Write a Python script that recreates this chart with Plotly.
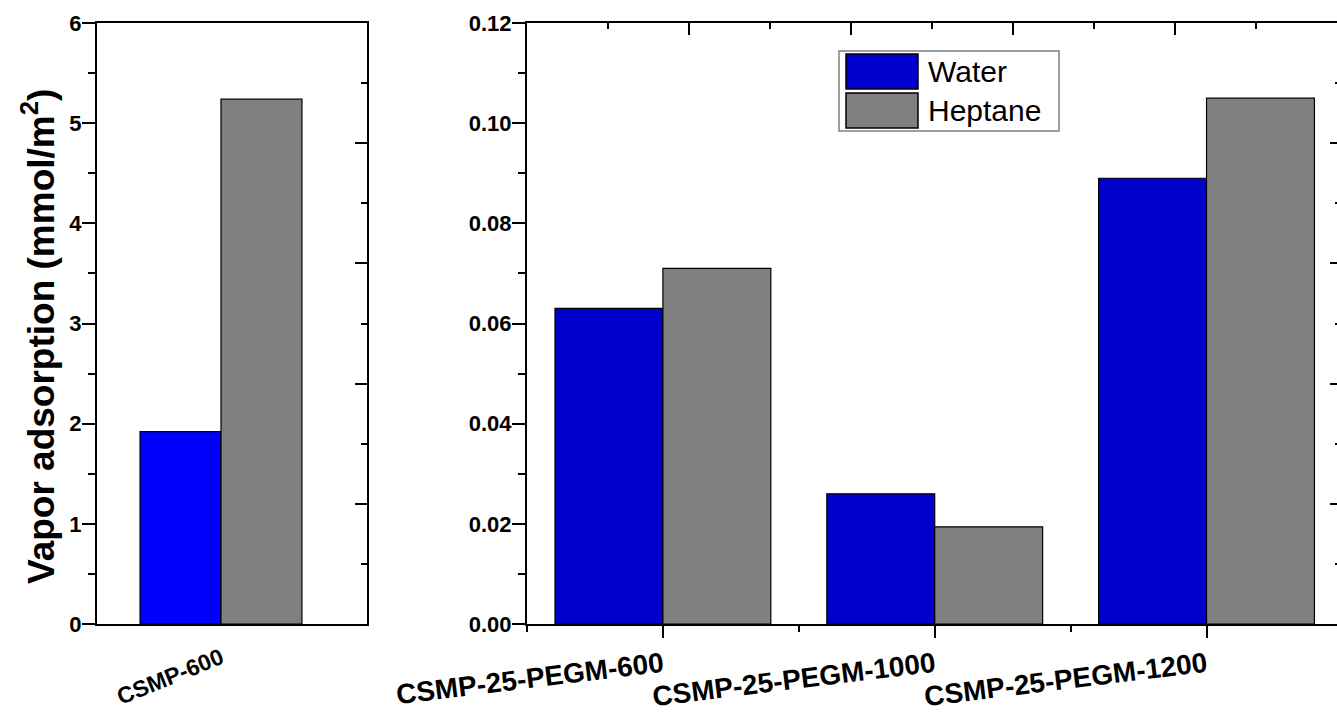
import plotly.graph_objects as go

# ---------------- data ----------------
series_names = ["Water", "Heptane"]
left_categories = ["CSMP-600"]
left_water = [1.92]
left_heptane = [5.24]

right_categories = ["CSMP-25-PEGM-600", "CSMP-25-PEGM-1000", "CSMP-25-PEGM-1200"]
right_water = [0.063, 0.026, 0.089]
right_heptane = [0.071, 0.0194, 0.105]

left_yticks = [0, 1, 2, 3, 4, 5, 6]
right_yticks = [0.00, 0.02, 0.04, 0.06, 0.08, 0.10, 0.12]

# ---------------- styles ----------------
W, H = 1337, 712
FONT = "Liberation Sans, Arial, sans-serif"
BLUE_L = "#0000FF"
BLUE_R = "#0000CC"
GRAY = "#808080"


def px(x):
    return x / W


def py(y):
    return 1 - y / H


Y_DOM = [py(624), py(23)]
LEFT_DOM = [px(97), px(367)]
RIGHT_DOM = [px(527), 1.0]

fig = go.Figure()

bar_line = dict(color="black", width=1.2)
lx = list(range(len(left_categories)))
rx = list(range(len(right_categories)))

fig.add_trace(go.Bar(x=lx, y=left_water, name=series_names[0], marker=dict(color=BLUE_L, line=bar_line),
                     xaxis="x", yaxis="y", offsetgroup="a", showlegend=False))
fig.add_trace(go.Bar(x=lx, y=left_heptane, name=series_names[1], marker=dict(color=GRAY, line=bar_line),
                     xaxis="x", yaxis="y", offsetgroup="b", showlegend=False))
fig.add_trace(go.Bar(x=rx, y=right_water, name=series_names[0], marker=dict(color=BLUE_R, line=bar_line),
                     xaxis="x2", yaxis="y2", offsetgroup="a", showlegend=False))
fig.add_trace(go.Bar(x=rx, y=right_heptane, name=series_names[1], marker=dict(color=GRAY, line=bar_line),
                     xaxis="x2", yaxis="y2", offsetgroup="b", showlegend=False))

# empty helper traces so the decorative tick-only axes get drawn
fig.add_trace(go.Scatter(x=[], y=[], xaxis="x", yaxis="y4", showlegend=False, hoverinfo="skip"))
fig.add_trace(go.Scatter(x=[], y=[], xaxis="x3", yaxis="y2", showlegend=False, hoverinfo="skip"))
fig.add_trace(go.Scatter(x=[], y=[], xaxis="x2", yaxis="y3", showlegend=False, hoverinfo="skip"))

tickfont = dict(family=FONT, size=22, color="black", weight="bold")

fig.update_layout(
    width=W, height=H,
    margin=dict(l=0, r=0, t=0, b=0),
    paper_bgcolor="white", plot_bgcolor="white",
    barmode="group", bargap=0.206, bargroupgap=0,
    showlegend=False,
    # ---- left panel ----
    xaxis=dict(domain=LEFT_DOM, anchor="y", range=[-0.608, 0.716],
               tickmode="array", tickvals=lx, ticktext=left_categories,
               ticks="outside", ticklen=10, tickcolor="rgba(0,0,0,0)", tickangle=-22,
               tickfont=dict(family=FONT, size=23, color="black", weight="bold"),
               showline=True, linecolor="black", linewidth=2, mirror=True,
               showgrid=False, zeroline=False, automargin=False, fixedrange=True),
    yaxis=dict(domain=Y_DOM, anchor="x", range=[0, 6],
               tickmode="array", tickvals=left_yticks,
               ticks="outside", ticklen=13, tickwidth=2, tickcolor="black",
               minor=dict(dtick=0.5, ticks="outside", ticklen=7, tickwidth=2, tickcolor="black", showgrid=False),
               tickfont=tickfont, ticklabelstandoff=-4,
               showline=True, linecolor="black", linewidth=2, mirror=True,
               showgrid=False, zeroline=False, automargin=False, fixedrange=True),
    yaxis4=dict(overlaying="y", anchor="x", side="right", range=[0, 5],
                tickmode="linear", tick0=0, dtick=1, ticks="inside", ticklen=12, tickwidth=2, tickcolor="black",
                minor=dict(dtick=0.5, ticks="inside", ticklen=6, tickwidth=2, tickcolor="black", showgrid=False),
                showticklabels=False, showline=False, showgrid=False, zeroline=False, fixedrange=True),
    # ---- right panel ----
    xaxis2=dict(domain=RIGHT_DOM, anchor="y2", range=[-0.5, 2.48],
                tickmode="array", tickvals=rx, ticktext=right_categories,
                ticks="outside", ticklen=12, tickwidth=2, tickcolor="black",
                minor=dict(tickmode="array", tickvals=[-0.5, 0.5, 1.5], ticks="outside", ticklen=6,
                           tickwidth=2, tickcolor="black", showgrid=False),
                tickangle=-7,
                tickfont=dict(family=FONT, size=28, color="black", weight="bold"),
                showline=True, linecolor="black", linewidth=2, mirror=True,
                showgrid=False, zeroline=False, automargin=False, fixedrange=True),
    yaxis2=dict(domain=Y_DOM, anchor="x2", range=[0, 0.12],
                tickmode="array", tickvals=right_yticks, tickformat=".2f",
                ticks="outside", ticklen=13, tickwidth=2, tickcolor="black",
                minor=dict(dtick=0.01, ticks="outside", ticklen=7, tickwidth=2, tickcolor="black", showgrid=False),
                tickfont=tickfont, ticklabelstandoff=-4,
                showline=True, linecolor="black", linewidth=2, mirror=False,
                showgrid=False, zeroline=False, automargin=False, fixedrange=True),
    xaxis3=dict(overlaying="x2", anchor="y2", side="top", range=[0, 5],
                tickmode="linear", tick0=0, dtick=1, ticks="inside", ticklen=12, tickwidth=2, tickcolor="black",
                minor=dict(dtick=0.5, ticks="inside", ticklen=6, tickwidth=2, tickcolor="black", showgrid=False),
                showticklabels=False, showline=False, showgrid=False, zeroline=False, fixedrange=True),
    yaxis3=dict(overlaying="y2", anchor="x2", side="right", range=[0, 5],
                tickmode="linear", tick0=0, dtick=1, ticks="inside", ticklen=7, tickwidth=2, tickcolor="black",
                minor=dict(dtick=0.5, ticks="inside", ticklen=2, tickwidth=2, tickcolor="black", showgrid=False),
                showticklabels=False, showline=False, showgrid=False, zeroline=False, fixedrange=True),
)

# y-axis title
fig.add_annotation(x=px(38), y=py(337), xref="paper", yref="paper",
                   text="Vapor adsorption (mmol/m<sup>2</sup>)", textangle=-90, showarrow=False,
                   font=dict(family=FONT, size=37, color="black", weight="bold"),
                   xanchor="center", yanchor="middle")

# legend box (drawn by hand to get the large swatches)
fig.add_shape(type="rect", xref="paper", yref="paper", x0=px(839), x1=px(1059), y0=py(131), y1=py(51),
              line=dict(color="#808080", width=1.5), fillcolor="white", layer="above")
swatch_colors = [BLUE_R, GRAY]
rows = [(54, 89), (93, 128)]
for name, col, (t, b) in zip(series_names, swatch_colors, rows):
    fig.add_shape(type="rect", xref="paper", yref="paper", x0=px(846), x1=px(918), y0=py(b), y1=py(t),
                  line=dict(color="black", width=1.5), fillcolor=col, layer="above")
    fig.add_annotation(x=px(926), y=py((t + b) / 2), xref="paper", yref="paper", text=name,
                       showarrow=False, xanchor="left", yanchor="middle",
                       font=dict(family=FONT, size=30, color="black"))

fig.write_html("out.html")
